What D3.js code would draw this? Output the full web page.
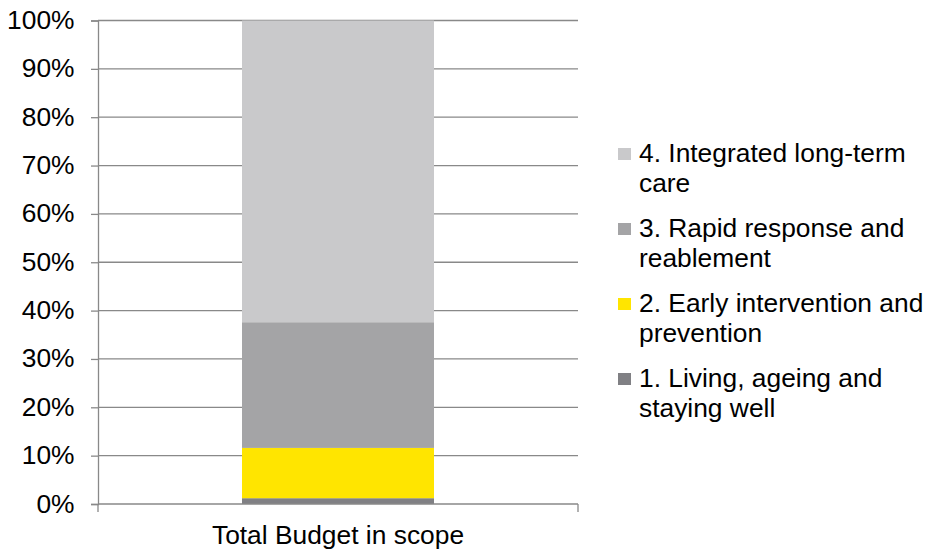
<!DOCTYPE html>
<html>
<head>
<meta charset="utf-8">
<script src="https://cdn.jsdelivr.net/npm/d3@7"></script>
<style>
  body { margin: 0; background: #fff; }
  text { font-family: "Liberation Sans", Arial, sans-serif; fill: #000; }
</style>
</head>
<body>
<svg id="chart"></svg>
<script>
(function() {

// data
const categories = ["Total Budget in scope"];
const seriesNames = [
  "1. Living, ageing and staying well",
  "2. Early intervention and prevention",
  "3. Rapid response and reablement",
  "4. Integrated long-term care"
];
const seriesValues = [1.2, 10.4, 26.0, 62.4]; // percent of total
const seriesColors = ["#808084", "#FFE500", "#A4A4A6", "#C9C9CB"];
const legendLines = [
  ["4. Integrated long-term", "care"],
  ["3. Rapid response and", "reablement"],
  ["2. Early intervention and", "prevention"],
  ["1. Living, ageing and", "staying well"]
];
const yTicks = [0, 10, 20, 30, 40, 50, 60, 70, 80, 90, 100];

const W = 927, H = 552;
const margin = { top: 20.5, right: 349, bottom: 48, left: 98 };
const width = W - margin.left - margin.right;
const height = H - margin.top - margin.bottom;
const axisColor = "#898989";
const stretch = 1.055; // reference text is a little wider than the font

const svg = d3.select("#chart").attr("width", W).attr("height", H);
const g = svg.append("g").attr("transform", `translate(${margin.left},${margin.top})`);

const x = d3.scaleBand().domain(categories).range([0, width]).paddingInner(0).paddingOuter(0);
const y = d3.scaleLinear().domain([0, 100]).range([height, 0]);

// gridlines
g.selectAll(".grid").data(yTicks.filter(d => d > 0)).enter().append("line")
    .attr("x1", 0).attr("x2", width)
    .attr("y1", d => y(d)).attr("y2", d => y(d))
    .attr("stroke", axisColor).attr("stroke-width", 1.3);

// stacked segments
const stackData = [Object.fromEntries(seriesNames.map((s, i) => [s, seriesValues[i]]))];
stackData[0].cat = categories[0];
const stacked = d3.stack().keys(seriesNames)(stackData);
const barW = x.bandwidth() * 0.4;

g.selectAll(".seg").data(stacked).enter().append("rect")
    .attr("x", d => x(d[0].data.cat) + (x.bandwidth() - barW) / 2)
    .attr("width", barW)
    .attr("y", d => y(d[0][1]))
    .attr("height", d => y(d[0][0]) - y(d[0][1]))
    .attr("fill", (d, i) => seriesColors[i]);

// y axis
const yAxis = g.append("g")
    .call(d3.axisLeft(y).tickValues(yTicks).tickFormat(d => d + "%").tickSize(7).tickPadding(16));
yAxis.select(".domain").attr("stroke", axisColor).attr("stroke-width", 1.3);
yAxis.selectAll(".tick line").attr("stroke", axisColor).attr("stroke-width", 1.3);
yAxis.selectAll(".tick text").attr("font-size", 25)
    .style("font-family", "Liberation Sans, Arial, sans-serif").attr("fill", "#000")
    .attr("x", -23.5 / stretch).attr("transform", `scale(${stretch},1)`);

// x axis
const xAxis = g.append("g").attr("transform", `translate(0,${height})`)
    .call(d3.axisBottom(x).tickSize(0).tickPadding(22));
xAxis.select(".domain").remove();
xAxis.selectAll(".tick text").attr("font-size", 25)
    .style("font-family", "Liberation Sans, Arial, sans-serif").attr("fill", "#000")
    .attr("transform", `scale(${stretch},1)`);
g.append("line").attr("x1", 0).attr("x2", width).attr("y1", height).attr("y2", height)
    .attr("stroke", axisColor).attr("stroke-width", 1.3);
g.selectAll(".xt").data([0, width]).enter().append("line")
    .attr("x1", d => d).attr("x2", d => d).attr("y1", height).attr("y2", height + 8)
    .attr("stroke", axisColor).attr("stroke-width", 1.3);

// legend
const legend = svg.append("g").attr("transform", "translate(618,162)");
const item = legend.selectAll(".item").data(legendLines).enter().append("g")
    .attr("transform", (d, i) => `translate(0,${i * 75})`);
item.append("rect")
    .attr("x", 0).attr("y", -14).attr("width", 13).attr("height", 12)
    .attr("fill", (d, i) => seriesColors[seriesColors.length - 1 - i]);
item.append("text")
    .attr("font-size", 25)
    .attr("transform", `scale(${stretch},1)`)
    .selectAll("tspan").data(d => d).enter().append("tspan")
    .attr("x", 21 / stretch).attr("dy", (d, i) => i === 0 ? 0 : 30)
    .text(d => d);

})();
</script>
</body>
</html>
